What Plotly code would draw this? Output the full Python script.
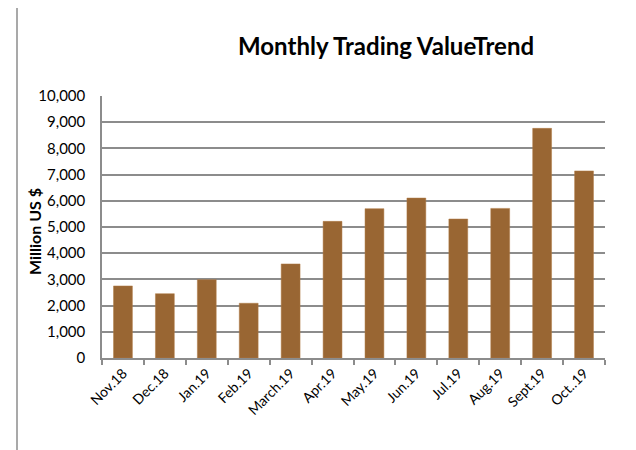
import plotly.graph_objects as go

months = ["Nov.18", "Dec.18", "Jan.19", "Feb.19", "March.19", "Apr.19",
          "May.19", "Jun.19", "Jul.19", "Aug.19", "Sept.19", "Oct..19"]
values = [2750, 2455, 2990, 2090, 3590, 5215, 5700, 6105, 5305, 5710, 8765, 7140]

# page has an 8px body margin, so the figure is drawn at (8, 8)
OFF = 8
W, H = 636 - OFF, 450 - OFF
L, R, T, B = 102 - OFF, 31, 96 - OFF, 92
pw, ph = W - L - R, H - T - B

def px(x):
    return (x - OFF - L) / pw

def py(y):
    return (H - B - (y - OFF)) / ph

fig = go.Figure(go.Bar(
    x=months, y=values,
    marker=dict(color="#996633", line=dict(color="#b07a45", width=0.5)),
))

grid = "#8c8c8c"
fig.update_layout(
    width=W, height=H,
    margin=dict(l=L, r=R, t=T, b=B),
    paper_bgcolor="white", plot_bgcolor="white",
    bargap=0.55,
    showlegend=False,
    font=dict(family="Lato, Carlito, sans-serif", color="black"),
    xaxis=dict(
        type="category", showline=True, linecolor=grid, linewidth=1.5,
        ticks="outside", tickson="boundaries", ticklen=5, tickcolor=grid,
        tickwidth=1.5, tickangle=-45, tickfont=dict(size=14),
        showgrid=False,
    ),
    yaxis=dict(
        range=[0, 10000], dtick=1000, tickformat=",",
        showline=True, linecolor=grid, linewidth=1.5,
        showgrid=True, gridcolor=grid, gridwidth=1.5,
        ticks="", ticklabelstandoff=12, tickfont=dict(size=15),
        zeroline=False,
    ),
    annotations=[
        dict(text="<b>Monthly Trading ValueTrend</b>", xref="paper", yref="paper",
             x=px(386), y=py(45), xanchor="center", yanchor="middle",
             showarrow=False, font=dict(size=24, color="black")),
        dict(text="<b>Million US $</b>", xref="paper", yref="paper",
             x=px(34), y=py(232), xanchor="center", yanchor="middle",
             textangle=-90, showarrow=False, font=dict(size=16, color="black")),
    ],
    shapes=[
        dict(type="line", xref="paper", yref="paper",
             x0=px(17), x1=px(640), y0=py(5), y1=py(5),
             line=dict(color="#8c8c8c", width=1.5)),
        dict(type="line", xref="paper", yref="paper",
             x0=px(17), x1=px(17), y0=py(5), y1=py(455),
             line=dict(color="#8c8c8c", width=1.5)),
    ],
)

fig.write_html("out.html")
